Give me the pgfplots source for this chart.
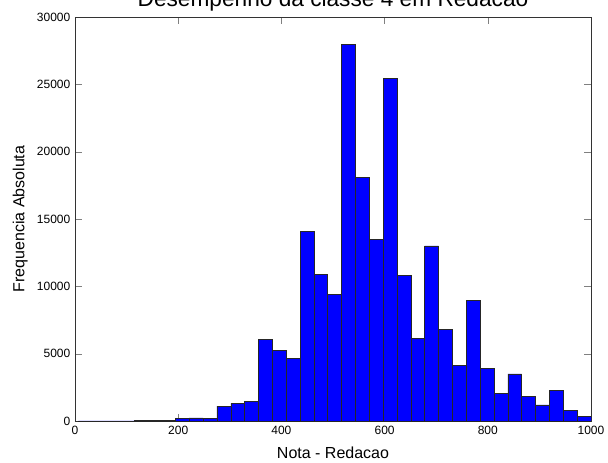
\documentclass[border=0pt]{standalone}
\usepackage{fontspec}
\setmainfont{Liberation Sans}
\usepackage{pgfplots}
\pgfplotsset{compat=1.18}

\begin{document}
\begin{tikzpicture}
\begin{axis}[
  at={(0,0)}, anchor=south west,
  width=387pt, height=303pt, scale only axis,
  xmin=0, xmax=1000, ymin=0, ymax=30000,
  xtick={0,200,...,1000},
  ytick={0,5000,...,30000},
  scaled ticks=false,
  /pgf/number format/1000 sep={},
  /pgf/number format/assume math mode=true,
  tick label style={font=\fontsize{9}{9}\selectfont},
  tick align=inside, tick pos=both,
  major tick length=5pt,
  axis line style={black!80},
  title={Desempenho da classe 4 em Redacao},
  title style={at={(0.5,1)}, anchor=base, yshift=2.25pt, font=\fontsize{17}{17}\selectfont},
  xlabel={Nota - Redacao},
  xlabel style={at={(axis description cs:0.5,0)}, anchor=base, yshift=-27.75pt, font=\fontsize{12}{12}\selectfont},
  ylabel={Frequencia Absoluta},
  ylabel style={at={(axis description cs:0,0.5)}, anchor=center, yshift=41pt, font=\fontsize{12}{12}\selectfont},
]
% histogram: left edge of each bin and its count (last row closes the interval)
\addplot[ybar interval, fill=blue, draw=black!85, line width=0.4pt] coordinates {
  (6.55,5) (33.40,5) (60.25,10) (87.10,15) (113.95,20) (140.80,50)
  (167.65,70) (194.50,170) (221.35,240) (248.20,200) (275.05,1100)
  (301.90,1300) (328.75,1460) (355.60,6080) (382.45,5220) (409.30,4640)
  (436.15,14100) (463.00,10900) (489.85,9430) (516.70,27950) (543.55,18100)
  (570.40,13500) (597.25,25450) (624.10,10800) (650.95,6120) (677.80,13000)
  (704.65,6830) (731.50,4120) (758.35,8950) (785.20,3880) (812.05,2030)
  (838.90,3500) (865.75,1800) (892.60,1200) (919.45,2270) (946.30,790)
  (973.15,330) (1000.00,330)
};
\end{axis}
\pgfresetboundingbox
\useasboundingbox (-56.25pt,-30.75pt) rectangle (399.75pt,315.75pt);
\end{tikzpicture}
\end{document}
